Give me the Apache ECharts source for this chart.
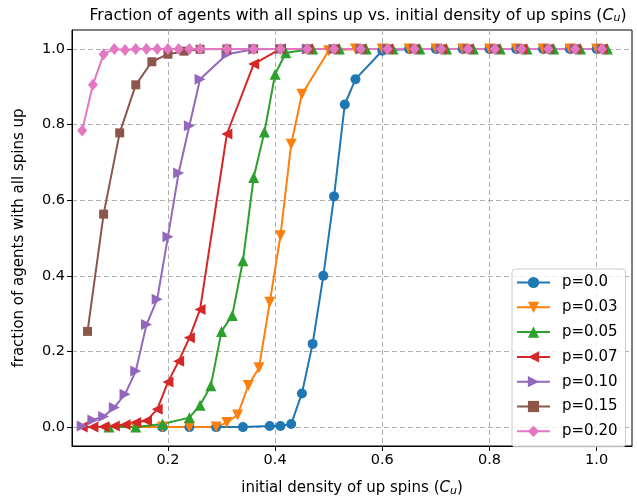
<!DOCTYPE html>
<html><head><meta charset="utf-8">
<script src="https://cdn.jsdelivr.net/npm/echarts@6/dist/echarts.min.js"></script>
<style>html,body{margin:0;padding:0;background:#fff}#c{width:637px;height:502px}</style>
</head><body><div id="c"></div>
<script>
// ---- data ----
const seriesNames = ['p=0.0', 'p=0.03', 'p=0.05', 'p=0.07', 'p=0.10', 'p=0.15', 'p=0.20'];
const xTicks = [0.2, 0.4, 0.6, 0.8, 1.0];
const yTicks = [0.0, 0.2, 0.4, 0.6, 0.8, 1.0];

const x_p000 = [0.19, 0.24, 0.29, 0.34, 0.39, 0.41, 0.43, 0.45, 0.47, 0.49, 0.51, 0.53, 0.55, 0.60, 0.65, 0.70, 0.75, 0.80, 0.85, 0.90, 0.95, 1.00];
const y_p000 = [0, 0, 0, 0, 0.003, 0.003, 0.008, 0.089, 0.22, 0.40, 0.61, 0.853, 0.92, 0.995, 1, 1, 1, 1, 1, 1, 1, 1];

const x_p003 = [0.14, 0.19, 0.24, 0.29, 0.31, 0.33, 0.35, 0.37, 0.39, 0.41, 0.43, 0.45, 0.50, 0.55, 0.60, 0.65, 0.70, 0.75, 0.80, 0.85, 0.90, 0.95, 1.00];
const y_p003 = [0, 0, 0, 0, 0.012, 0.032, 0.11, 0.157, 0.33, 0.506, 0.748, 0.88, 0.995, 1, 1, 1, 1, 1, 1, 1, 1, 1, 1];

const x_p005 = [0.09, 0.14, 0.19, 0.24, 0.26, 0.28, 0.30, 0.32, 0.34, 0.36, 0.38, 0.40, 0.42, 0.47, 0.52, 0.57, 0.62, 0.67, 0.72, 0.77, 0.82, 0.87, 0.92, 0.97, 1.02];
const y_p005 = [0, 0, 0.008, 0.025, 0.058, 0.109, 0.253, 0.295, 0.44, 0.66, 0.78, 0.933, 0.99, 1, 1, 1, 1, 1, 1, 1, 1, 1, 1, 1, 1];

const x_p007 = [0.04, 0.06, 0.08, 0.10, 0.12, 0.14, 0.16, 0.18, 0.20, 0.22, 0.24, 0.26, 0.31, 0.36, 0.41, 0.46, 0.51, 0.56, 0.61, 0.66, 0.71, 0.76, 0.81, 0.86, 0.91, 0.96, 1.01];
const y_p007 = [0, 0, 0.001, 0.003, 0.006, 0.012, 0.017, 0.047, 0.119, 0.174, 0.236, 0.311, 0.775, 0.96, 1, 1, 1, 1, 1, 1, 1, 1, 1, 1, 1, 1, 1];

const x_p010 = [0.04, 0.06, 0.08, 0.10, 0.12, 0.14, 0.16, 0.18, 0.20, 0.22, 0.24, 0.26, 0.31, 0.36, 0.41, 0.46, 0.51, 0.56, 0.61, 0.66, 0.71, 0.76, 0.81, 0.86, 0.91, 0.96, 1.01];
const y_p010 = [0.003, 0.019, 0.028, 0.052, 0.087, 0.148, 0.271, 0.338, 0.503, 0.672, 0.797, 0.92, 0.986, 0.999, 1, 1, 1, 1, 1, 1, 1, 1, 1, 1, 1, 1, 1];

const x_p015 = [0.05, 0.08, 0.11, 0.14, 0.17, 0.20, 0.23, 0.26, 0.31, 0.36, 0.41, 0.46, 0.51, 0.56, 0.61, 0.66, 0.71, 0.76, 0.81, 0.86, 0.91, 0.96, 1.01];
const y_p015 = [0.253, 0.563, 0.778, 0.905, 0.966, 0.986, 0.994, 0.999, 1, 1, 1, 1, 1, 1, 1, 1, 1, 1, 1, 1, 1, 1, 1];

const x_p020 = [0.04, 0.06, 0.08, 0.10, 0.12, 0.14, 0.16, 0.18, 0.20, 0.22, 0.24, 0.26, 0.31, 0.36, 0.41, 0.46, 0.51, 0.56, 0.61, 0.66, 0.71, 0.76, 0.81, 0.86, 0.91, 0.96, 1.01];
const y_p020 = [0.784, 0.905, 0.986, 1.0, 0.997, 1, 1, 1, 1, 1, 1, 1, 1, 1, 1, 1, 1, 1, 1, 1, 1, 1, 1, 1, 1, 1, 1];

// ---- styling ----
const xs = [x_p000, x_p003, x_p005, x_p007, x_p010, x_p015, x_p020];
const ys = [y_p000, y_p003, y_p005, y_p007, y_p010, y_p015, y_p020];
const colors = ['#1f77b4', '#ff7f0e', '#2ca02c', '#d62728', '#9467bd', '#8c564b', '#e377c2'];
const symbols = ['circle', 'triangle', 'triangle', 'triangle', 'triangle', 'rect', 'diamond'];
const rotates = [0, 180, 0, 90, -90, 0, 0];
const sizes = [10, 11, 11, 11, 11, 9, [10, 12]];
const FONT = 'DejaVu Sans';

const series = seriesNames.map((name, i) => ({
  name: name,
  type: 'line',
  data: xs[i].map((x, j) => [x, ys[i][j]]),
  symbol: symbols[i],
  symbolRotate: rotates[i],
  symbolSize: sizes[i],
  showAllSymbol: true,
  color: colors[i],
  lineStyle: { width: 2, color: colors[i] },
  itemStyle: { color: colors[i] },
  emphasis: { disabled: true },
  animation: false
}));

const rich = (fs) => ({
  i: { fontFamily: FONT, fontSize: fs, fontStyle: 'italic', color: '#000' },
  s: { fontFamily: FONT, fontSize: Math.round(fs * 0.7), fontStyle: 'italic', color: '#000', padding: [Math.round(fs * 0.4), 0, 0, 0] }
});

const chart = echarts.init(document.getElementById('c'), null, { renderer: 'canvas' });
chart.setOption({
  animation: false,
  backgroundColor: '#fff',
  textStyle: { fontFamily: FONT },
  title: {
    text: 'Fraction of agents with all spins up vs. initial density of up spins ({i|C}{s|u})',
    left: 353, top: 2, textAlign: 'center',
    textStyle: { fontFamily: FONT, fontSize: 15.7, fontWeight: 'normal', color: '#000', rich: rich(15.7) }
  },
  grid: { left: 72, top: 30, width: 560, height: 417, show: true, borderColor: '#000', borderWidth: 1, backgroundColor: 'transparent', containLabel: false },
  legend: {
    orient: 'vertical', left: 512, top: 269,
    data: seriesNames,
    itemWidth: 33, itemHeight: 14, itemGap: 9.8,
    padding: [6, 8, 8, 4],
    backgroundColor: 'rgba(255,255,255,0.8)',
    borderColor: '#cccccc', borderWidth: 1, borderRadius: 3,
    textStyle: { fontFamily: FONT, fontSize: 15, color: '#000', padding: [0, 0, 0, 7] }
  },
  xAxis: {
    type: 'value', min: 0.021, max: 1.066,
    name: 'initial density of up spins ({i|C}{s|u})',
    nameLocation: 'middle', nameGap: 34,
    nameTextStyle: { fontFamily: FONT, fontSize: 15, color: '#000', rich: rich(15) },
    axisLine: { show: true, onZero: false, lineStyle: { color: '#000', width: 1 } },
    axisTick: { show: true, inside: false, length: 5, lineStyle: { color: '#000' }, customValues: xTicks },
    axisLabel: { customValues: xTicks, formatter: v => v.toFixed(1), fontFamily: FONT, fontSize: 14.5, color: '#000', margin: 7 },
    splitLine: { show: true, lineStyle: { color: '#b0b0b0', width: 1, type: [5, 3] } }
  },
  yAxis: {
    type: 'value', min: -0.05, max: 1.05,
    name: 'fraction of agents with all spins up',
    nameLocation: 'middle', nameGap: 45, nameRotate: 90,
    nameTextStyle: { fontFamily: FONT, fontSize: 15, color: '#000' },
    axisLine: { show: true, onZero: false, lineStyle: { color: '#000', width: 1 } },
    axisTick: { show: true, inside: false, length: 5, lineStyle: { color: '#000' }, customValues: yTicks },
    axisLabel: { customValues: yTicks, formatter: v => v.toFixed(1), fontFamily: FONT, fontSize: 14.5, color: '#000', margin: 7 },
    splitLine: { show: true, lineStyle: { color: '#b0b0b0', width: 1, type: [5, 3] } }
  },
  series: series
});
</script>
</body></html>
